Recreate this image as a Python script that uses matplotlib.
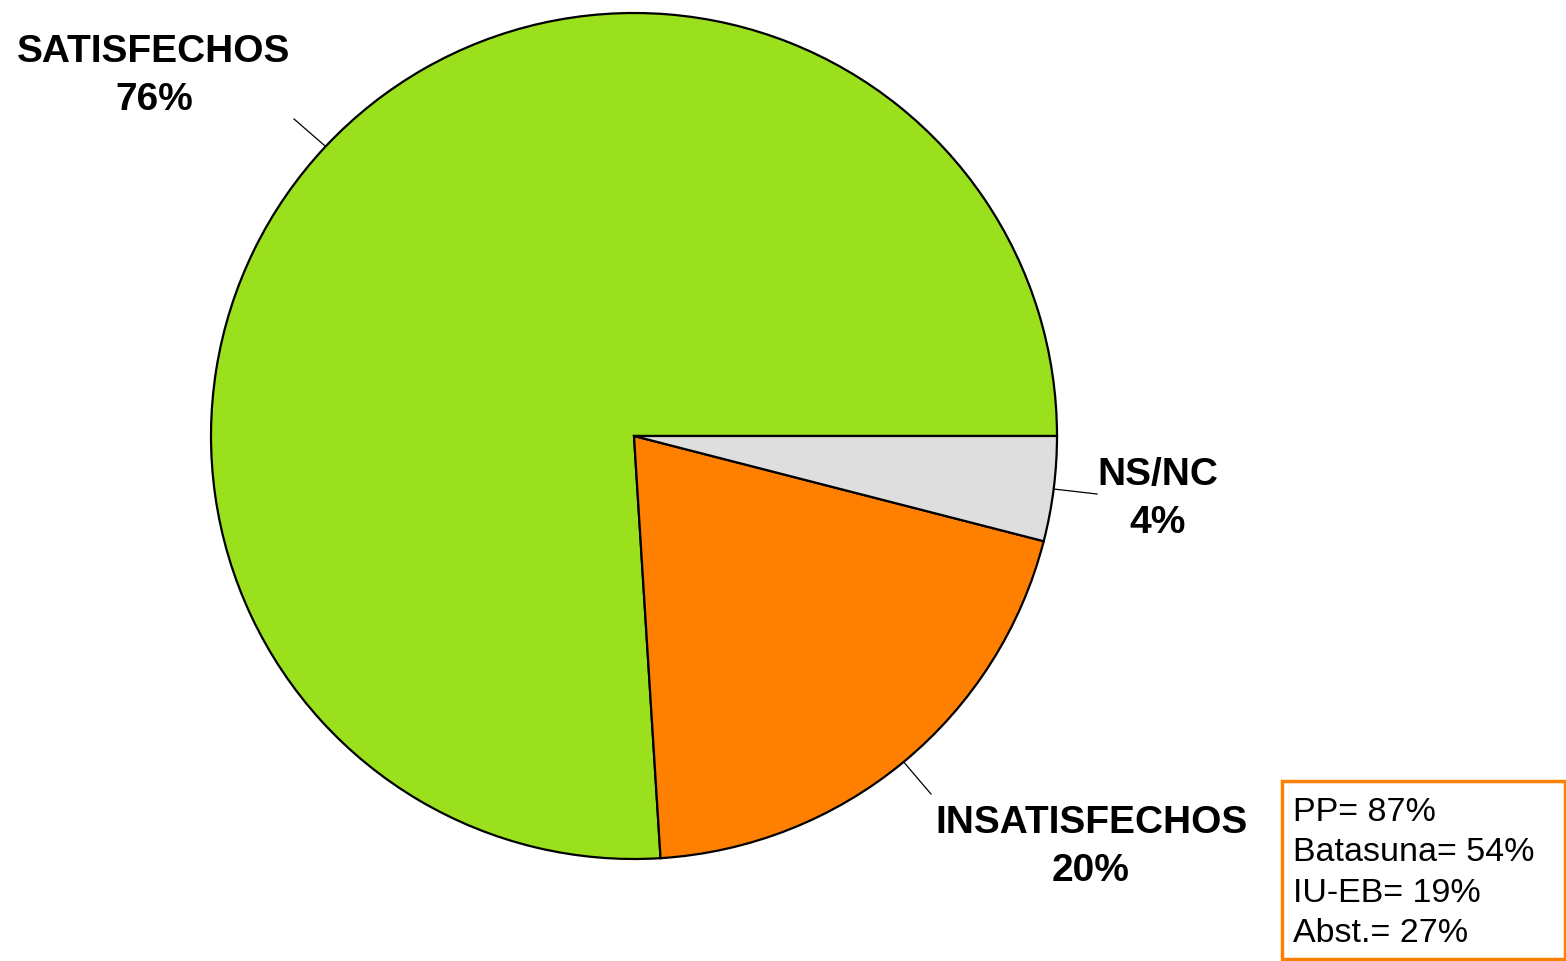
import numpy as np
import matplotlib
matplotlib.use('Agg')
import matplotlib.pyplot as plt
from matplotlib.patches import Rectangle

plt.rcParams['font.family'] = ['Liberation Sans', 'DejaVu Sans']

# data
labels = ['SATISFECHOS', 'INSATISFECHOS', 'NS/NC']
values = [76, 20, 4]
colors = ['#9AE01C', '#FF8000', '#DEDEDE']
box_lines = ['PP= 87%', 'Batasuna= 54%', 'IU-EB= 19%', 'Abst.= 27%']

W, H = 1566, 962
fig = plt.figure(figsize=(W / 100, H / 100), dpi=100)
ax = fig.add_axes([0, 0, 1, 1])

cx, cy, r = 634, H - 437, 423
wedges, _ = ax.pie(values, colors=colors, startangle=0, counterclock=True,
                   center=(cx, cy), radius=r, frame=True,
                   wedgeprops=dict(edgecolor='black', linewidth=1.6))
ax.set_xlim(0, W)
ax.set_ylim(0, H)
ax.set_aspect('equal')
ax.axis('off')

# label text centres and leader-line ends (pixel coords, y from top)
label_pos = [(154, 76), (1091, 847), (1158, 499)]
line_end = [(294, 120), (931, 795), (1097, 495)]

for w, lab, v, (tx, ty), (ex, ey) in zip(wedges, labels, values, label_pos, line_end):
    mid = np.deg2rad((w.theta1 + w.theta2) / 2)
    sx, sy = cx + r * np.cos(mid), cy + r * np.sin(mid)
    ax.plot([sx, ex], [sy, H - ey], color='black', linewidth=0.9)
    ax.text(tx, H - ty, f'{lab}\n{v}%', ha='center', va='center',
            multialignment='center', fontsize=28, fontweight='bold',
            linespacing=1.4)

# note box
ax.add_patch(Rectangle((1282, H - 960), 283, 178, facecolor='white',
                       edgecolor='#FF8000', linewidth=2.5, clip_on=False))
ax.text(1293, H - 873, '\n'.join(box_lines), ha='left', va='center',
        fontsize=24.5, linespacing=1.38)

fig.savefig('out.png', dpi=100)
